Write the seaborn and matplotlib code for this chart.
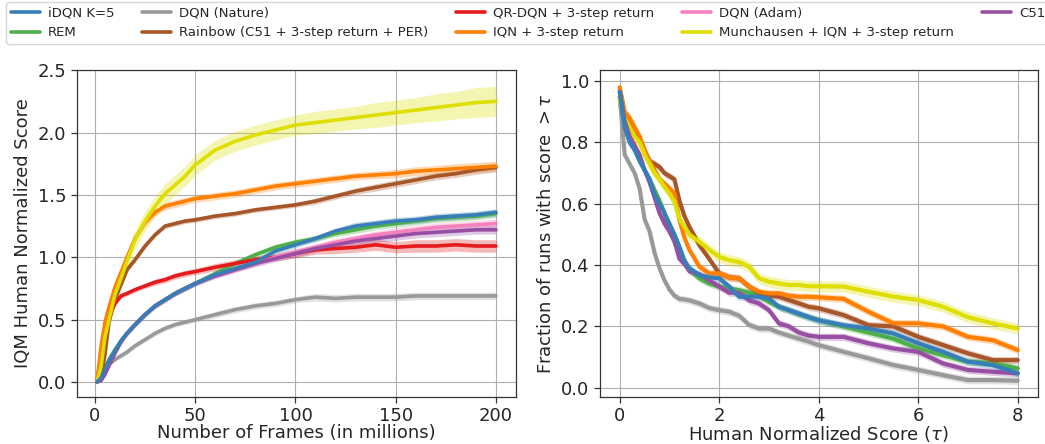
import numpy as np
import pandas as pd
import matplotlib
matplotlib.use("Agg")
import matplotlib.pyplot as plt
import seaborn as sns

# ---------------- data ----------------
algos = ["iDQN K=5", "REM", "DQN (Nature)", "Rainbow (C51 + 3-step return + PER)",
         "QR-DQN + 3-step return", "IQN + 3-step return", "DQN (Adam)",
         "Munchausen + IQN + 3-step return", "C51"]
colors = ["#377eb8", "#4daf4a", "#999999", "#a65628", "#e41a1c",
          "#ff7f00", "#f781bf", "#dede00", "#984ea3"]

frames = [1, 3, 5, 7, 10, 13, 16, 20, 25, 30, 35, 40, 45, 50, 60, 70, 80, 90,
          100, 110, 120, 130, 140, 150, 160, 170, 180, 190, 200]

iqm_idqn = [0.0, 0.03, 0.10, 0.17, 0.25, 0.33, 0.39, 0.46, 0.54, 0.61, 0.66, 0.71, 0.75, 0.79,
            0.86, 0.91, 0.96, 1.05, 1.10, 1.15, 1.21, 1.25, 1.27, 1.29, 1.30, 1.32, 1.33, 1.34, 1.36]
iqm_rem = [0.0, 0.04, 0.11, 0.18, 0.26, 0.33, 0.39, 0.46, 0.54, 0.61, 0.66, 0.71, 0.75, 0.79,
           0.87, 0.95, 1.02, 1.08, 1.12, 1.15, 1.19, 1.22, 1.25, 1.27, 1.29, 1.31, 1.32, 1.33, 1.35]
iqm_dqn_nature = [0.0, 0.06, 0.11, 0.14, 0.18, 0.21, 0.24, 0.29, 0.34, 0.39, 0.43, 0.46, 0.48, 0.50,
                  0.54, 0.58, 0.61, 0.63, 0.66, 0.68, 0.67, 0.68, 0.68, 0.68, 0.69, 0.69, 0.69, 0.69, 0.69]
iqm_rainbow = [0.0, 0.02, 0.22, 0.48, 0.66, 0.78, 0.90, 0.98, 1.09, 1.18, 1.25, 1.27, 1.29, 1.30,
               1.33, 1.35, 1.38, 1.40, 1.42, 1.45, 1.49, 1.53, 1.56, 1.59, 1.62, 1.65, 1.67, 1.70, 1.72]
iqm_qrdqn = [0.0, 0.22, 0.42, 0.53, 0.63, 0.69, 0.71, 0.74, 0.77, 0.80, 0.82, 0.85, 0.87, 0.885,
             0.92, 0.95, 0.98, 1.00, 1.03, 1.06, 1.07, 1.08, 1.10, 1.08, 1.09, 1.09, 1.10, 1.09, 1.09]
iqm_iqn = [0.0, 0.28, 0.48, 0.60, 0.76, 0.88, 1.00, 1.15, 1.28, 1.36, 1.41, 1.43, 1.45, 1.47,
           1.49, 1.51, 1.54, 1.57, 1.59, 1.61, 1.63, 1.65, 1.66, 1.67, 1.69, 1.70, 1.71, 1.72, 1.73]
iqm_dqn_adam = [0.0, 0.02, 0.07, 0.14, 0.24, 0.32, 0.39, 0.46, 0.54, 0.61, 0.66, 0.71, 0.75, 0.79,
                0.85, 0.90, 0.95, 1.00, 1.04, 1.08, 1.12, 1.15, 1.18, 1.20, 1.22, 1.24, 1.25, 1.26, 1.27]
iqm_munchausen = [0.0, 0.12, 0.36, 0.50, 0.70, 0.83, 0.97, 1.14, 1.29, 1.41, 1.51, 1.58, 1.65, 1.74,
                  1.86, 1.93, 1.98, 2.02, 2.06, 2.08, 2.10, 2.12, 2.14, 2.16, 2.18, 2.20, 2.22, 2.24, 2.25]
iqm_c51 = [0.0, 0.01, 0.06, 0.13, 0.23, 0.32, 0.39, 0.46, 0.54, 0.61, 0.66, 0.71, 0.75, 0.79,
           0.85, 0.90, 0.95, 0.99, 1.03, 1.07, 1.10, 1.13, 1.15, 1.17, 1.19, 1.20, 1.21, 1.22, 1.22]

# half-widths of the confidence bands (left panel)
ci_idqn = [0.0, 0.01, 0.01, 0.01, 0.015, 0.015, 0.02, 0.02, 0.02, 0.02, 0.02, 0.02, 0.02, 0.02,
           0.02, 0.02, 0.025, 0.025, 0.025, 0.025, 0.025, 0.03, 0.03, 0.03, 0.03, 0.03, 0.03, 0.03, 0.03]
ci_rem = ci_idqn
ci_dqn_nature = [0.0, 0.01, 0.01, 0.01, 0.015, 0.015, 0.02, 0.02, 0.02, 0.02, 0.02, 0.02, 0.02, 0.02,
                 0.025, 0.025, 0.025, 0.025, 0.025, 0.03, 0.03, 0.03, 0.03, 0.03, 0.03, 0.03, 0.03, 0.03, 0.03]
ci_rainbow = [0.0, 0.01, 0.02, 0.02, 0.02, 0.02, 0.02, 0.02, 0.02, 0.02, 0.02, 0.02, 0.02, 0.02,
              0.02, 0.02, 0.02, 0.02, 0.02, 0.025, 0.025, 0.025, 0.03, 0.03, 0.03, 0.03, 0.03, 0.035, 0.035]
ci_qrdqn = [0.0, 0.01, 0.02, 0.02, 0.02, 0.02, 0.02, 0.02, 0.02, 0.025, 0.025, 0.025, 0.025, 0.025,
            0.03, 0.03, 0.03, 0.03, 0.035, 0.035, 0.04, 0.04, 0.045, 0.045, 0.05, 0.05, 0.05, 0.05, 0.05]
ci_iqn = [0.0, 0.02, 0.02, 0.02, 0.02, 0.02, 0.025, 0.025, 0.03, 0.03, 0.03, 0.03, 0.03, 0.03,
          0.03, 0.03, 0.03, 0.03, 0.03, 0.03, 0.03, 0.03, 0.03, 0.035, 0.035, 0.035, 0.04, 0.04, 0.04]
ci_dqn_adam = [0.0, 0.01, 0.01, 0.01, 0.015, 0.015, 0.02, 0.02, 0.02, 0.02, 0.02, 0.02, 0.02, 0.02,
               0.02, 0.02, 0.025, 0.025, 0.03, 0.03, 0.03, 0.03, 0.03, 0.035, 0.035, 0.035, 0.035, 0.035, 0.035]
ci_munchausen = [0.0, 0.02, 0.03, 0.04, 0.05, 0.06, 0.07, 0.08, 0.08, 0.08, 0.08, 0.08, 0.08, 0.08,
                 0.08, 0.08, 0.08, 0.08, 0.08, 0.09, 0.09, 0.09, 0.10, 0.10, 0.10, 0.11, 0.11, 0.12, 0.12]
ci_c51 = ci_dqn_adam

tau = [0, 0.1, 0.2, 0.3, 0.4, 0.5, 0.6, 0.7, 0.8, 0.9, 1.0, 1.1, 1.2, 1.3, 1.4, 1.6, 1.8, 2.0,
       2.2, 2.4, 2.6, 2.8, 3.0, 3.2, 3.4, 3.6, 3.8, 4.0, 4.5, 5.0, 5.5, 6.0, 6.5, 7.0, 7.5, 8.0]
prof_idqn = [0.965, 0.85, 0.80, 0.775, 0.74, 0.71, 0.68, 0.63, 0.60, 0.57, 0.535, 0.50, 0.46, 0.415, 0.39,
             0.367, 0.36, 0.357, 0.33, 0.297, 0.297, 0.297, 0.29, 0.264, 0.253, 0.242, 0.23, 0.22,
             0.204, 0.193, 0.177, 0.145, 0.117, 0.085, 0.074, 0.047]
prof_rem = [0.94, 0.84, 0.81, 0.78, 0.74, 0.71, 0.68, 0.645, 0.61, 0.57, 0.51, 0.475, 0.43, 0.405, 0.385,
            0.357, 0.34, 0.33, 0.324, 0.318, 0.31, 0.30, 0.28, 0.264, 0.253, 0.24, 0.23, 0.22,
            0.20, 0.18, 0.16, 0.128, 0.106, 0.085, 0.08, 0.063]
prof_dqn_nature = [0.95, 0.76, 0.73, 0.70, 0.65, 0.55, 0.51, 0.44, 0.39, 0.35, 0.32, 0.30, 0.29, 0.288, 0.285,
                   0.275, 0.26, 0.253, 0.248, 0.235, 0.205, 0.193, 0.193, 0.18, 0.17, 0.16, 0.15, 0.139,
                   0.117, 0.096, 0.074, 0.058, 0.041, 0.025, 0.025, 0.023]
prof_rainbow = [0.976, 0.89, 0.86, 0.835, 0.81, 0.775, 0.74, 0.73, 0.72, 0.70, 0.69, 0.68, 0.61, 0.56, 0.525,
                0.465, 0.42, 0.373, 0.36, 0.357, 0.33, 0.308, 0.30, 0.297, 0.286, 0.275, 0.264, 0.259,
                0.237, 0.204, 0.20, 0.166, 0.139, 0.112, 0.09, 0.09]
prof_iqn = [0.98, 0.90, 0.88, 0.85, 0.82, 0.775, 0.74, 0.71, 0.68, 0.666, 0.65, 0.634, 0.547, 0.49, 0.45,
            0.395, 0.373, 0.373, 0.36, 0.357, 0.33, 0.313, 0.308, 0.308, 0.30, 0.297, 0.297, 0.295,
            0.29, 0.248, 0.21, 0.21, 0.20, 0.166, 0.155, 0.123]
prof_munchausen = [0.94, 0.88, 0.85, 0.82, 0.80, 0.76, 0.73, 0.70, 0.68, 0.655, 0.634, 0.607, 0.55, 0.525, 0.50,
                   0.476, 0.45, 0.427, 0.416, 0.41, 0.395, 0.357, 0.346, 0.34, 0.335, 0.335, 0.331, 0.331,
                   0.33, 0.313, 0.297, 0.286, 0.264, 0.23, 0.21, 0.193]
prof_c51 = [0.965, 0.87, 0.82, 0.79, 0.76, 0.71, 0.67, 0.62, 0.57, 0.535, 0.51, 0.48, 0.42, 0.405, 0.38,
            0.37, 0.35, 0.33, 0.31, 0.31, 0.285, 0.275, 0.253, 0.21, 0.20, 0.18, 0.17, 0.166,
            0.166, 0.145, 0.128, 0.117, 0.079, 0.058, 0.052, 0.047]
prof_ci = {"iDQN K=5": 0.012, "REM": 0.012, "DQN (Nature)": 0.012,
           "Rainbow (C51 + 3-step return + PER)": 0.012, "IQN + 3-step return": 0.012,
           "Munchausen + IQN + 3-step return": 0.018, "C51": 0.012}

# ---------------- build tables ----------------
left_vals = {"iDQN K=5": (iqm_idqn, ci_idqn), "REM": (iqm_rem, ci_rem),
             "DQN (Nature)": (iqm_dqn_nature, ci_dqn_nature),
             "Rainbow (C51 + 3-step return + PER)": (iqm_rainbow, ci_rainbow),
             "QR-DQN + 3-step return": (iqm_qrdqn, ci_qrdqn),
             "IQN + 3-step return": (iqm_iqn, ci_iqn),
             "DQN (Adam)": (iqm_dqn_adam, ci_dqn_adam),
             "Munchausen + IQN + 3-step return": (iqm_munchausen, ci_munchausen),
             "C51": (iqm_c51, ci_c51)}
right_vals = {"iDQN K=5": prof_idqn, "REM": prof_rem, "DQN (Nature)": prof_dqn_nature,
              "Rainbow (C51 + 3-step return + PER)": prof_rainbow,
              "IQN + 3-step return": prof_iqn,
              "Munchausen + IQN + 3-step return": prof_munchausen, "C51": prof_c51}

rows = []
for a, (v, c) in left_vals.items():
    for f, y, h in zip(frames, v, c):
        rows.append({"algo": a, "frames": f, "score": y, "lo": y - h, "hi": y + h})
df_left = pd.DataFrame(rows)
rows = []
for a, v in right_vals.items():
    for t, y in zip(tau, v):
        rows.append({"algo": a, "tau": t, "frac": y,
                     "lo": y - prof_ci[a], "hi": y + prof_ci[a]})
df_right = pd.DataFrame(rows)

palette = dict(zip(algos, colors))
draw_order = algos[1:] + algos[:1]  # iDQN on top

# ---------------- plot ----------------
sns.set_style("white")
plt.rcParams["font.family"] = ["DejaVu Sans"]
fig = plt.figure(figsize=(10.45, 4.44), dpi=100)
axL = fig.add_axes([0.0737, 0.106, 0.420, 0.736])
axR = fig.add_axes([0.574, 0.106, 0.419, 0.736])

for ax in (axL, axR):
    ax.grid(True, color="#b0b0b0", lw=0.8)
    for s in ax.spines.values():
        s.set_color("#333333")
        s.set_linewidth(0.9)

for a in draw_order:
    d = df_left[df_left.algo == a]
    axL.fill_between(d.frames, d.lo, d.hi, color=palette[a], alpha=0.3, lw=0)
    sns.lineplot(data=d, x="frames", y="score", color=palette[a], lw=2.6, ax=axL,
                 legend=False, errorbar=None)
for a in draw_order:
    if a not in right_vals:
        continue
    d = df_right[df_right.algo == a]
    axR.fill_between(d.tau, d.lo, d.hi, color=palette[a], alpha=0.3, lw=0)
    sns.lineplot(data=d, x="tau", y="frac", color=palette[a], lw=3.0, ax=axR,
                 legend=False, errorbar=None)

axL.set_xlim(-8.95, 209.95)
axL.set_ylim(-0.12, 2.5)
axL.set_xticks([0, 50, 100, 150, 200])
axL.set_yticks([0.0, 0.5, 1.0, 1.5, 2.0, 2.5])
axL.set_xlabel("Number of Frames (in millions)", fontsize=13, labelpad=-1)
axL.set_ylabel("IQM Human Normalized Score", fontsize=13)

axR.set_xlim(-0.4, 8.4)
axR.set_ylim(-0.03, 1.036)
axR.set_xticks([0, 2, 4, 6, 8])
axR.set_yticks([0.0, 0.2, 0.4, 0.6, 0.8, 1.0])
axR.set_xlabel(r"Human Normalized Score ($\tau$)", fontsize=13, labelpad=-1)
axR.set_ylabel(r"Fraction of runs with score $>\tau$", fontsize=13)

for ax in (axL, axR):
    ax.tick_params(axis="both", labelsize=13, length=4, width=0.9, color="#333333",
                   bottom=True, left=True)

handles = [plt.Line2D([], [], color=palette[a], lw=2.6) for a in algos]
fig.legend(handles, algos, loc="upper left",
           bbox_to_anchor=(6 / 1045, 0.0, 1044 / 1045, 1 - 2 / 444),
           mode="expand", ncol=5, fontsize=9.5, frameon=True, borderaxespad=0.0,
           handlelength=2.2, handletextpad=0.6, borderpad=0.35)

fig.savefig("out.png", dpi=100)
